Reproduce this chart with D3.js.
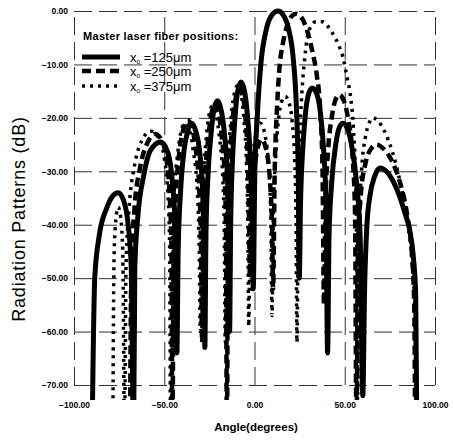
<!DOCTYPE html>
<html>
<head>
<meta charset="utf-8">
<script src="https://cdn.jsdelivr.net/npm/d3@7"></script>
<style>
  body { margin: 0; background: #fff; }
  svg { display: block; }
  .tick text { font-family: "Liberation Sans", Arial, sans-serif; font-weight: bold; font-size: 8.5px; fill: #000; }
  .grid line { stroke: #333; stroke-width: 1; stroke-dasharray: 18,7; }
</style>
</head>
<body>
<div id="chart"></div>
<script>
// tick values
const xTicks = [-100, -50, 0, 50, 100];
const yTicks = [0, -10, -20, -30, -40, -50, -60, -70];

// legend labels (fiber position x0, um)
const seriesNames = ["125", "250", "375"];

// x0 = 125 um  (angle in degrees, pattern in dB)
const solid = [
  [-90, -80], [-88.5, -50], [-86, -42], [-82, -37], [-78.5, -34.6], [-75.5, -34], [-72.5, -35.5], [-70, -40], [-68.3, -48], [-67, -80],
  [-66.3, -48], [-64.5, -38], [-61.5, -31], [-57.5, -26], [-52, -24.5], [-48, -26.5], [-45.5, -32], [-44, -40], [-43, -64],
  [-42.3, -45], [-41, -34], [-39, -26], [-37, -22.5], [-35, -21], [-32.5, -22.5], [-30.5, -26], [-28.7, -34], [-28, -45], [-27.5, -63],
  [-26.9, -42], [-25.8, -31], [-24.2, -23.5], [-22.5, -18.5], [-20.5, -16.8], [-18.5, -18.5], [-16.5, -23.5], [-15, -31], [-14.3, -42], [-13.8, -60],
  [-13.2, -40], [-12.2, -28], [-10.8, -20], [-9.3, -15], [-7.5, -13.3], [-5.5, -15], [-3.8, -20], [-2.3, -28], [-1.3, -40], [-0.7, -52],
  [0.2, -30], [1.5, -20], [3.5, -10], [6.5, -3.5], [10, -0.6], [13, 0], [16, -0.8], [19, -3.5], [21.5, -9], [23.2, -18], [24.2, -30], [24.8, -50],
  [25.5, -36], [26.7, -26], [28.3, -19], [30, -15.5], [32, -14.4], [34.5, -15.5], [36.5, -19], [38.3, -26], [39.6, -36], [40.5, -64],
  [41.3, -42], [42.8, -32], [45, -25], [47, -21.8], [49, -21], [51.5, -22], [54, -25.5], [56.5, -32], [58.5, -42], [60, -72],
  [61, -52], [62.3, -40], [64, -34.5], [66.5, -31], [69.5, -29.4], [73, -30], [77, -32], [80.5, -34.8], [83.5, -38], [86, -41], [88, -46], [89.3, -53], [90, -80]
];

// x0 = 250 um
const dashed = [
  [-69, -80], [-68.2, -48], [-66.5, -37], [-63.5, -29.5], [-59.5, -24.8], [-55, -23], [-51, -24.5], [-48.5, -28.5], [-46.8, -36], [-46, -45], [-45.5, -80],
  [-44.8, -45], [-43.5, -34], [-41.5, -26], [-39.3, -22], [-37, -20.5], [-34.5, -22], [-32.5, -26], [-30.5, -34], [-29.6, -45], [-29, -62],
  [-28.4, -42], [-27.3, -31], [-25.7, -24], [-24, -19.5], [-22, -17.5], [-20, -19], [-18, -24], [-16.5, -31], [-15.8, -42], [-15.3, -80],
  [-14.7, -42], [-13.7, -29], [-12.3, -21], [-10.5, -16.5], [-8.5, -14.5], [-6.5, -16], [-4.8, -21], [-3.6, -29], [-3, -40], [-2.5, -50],
  [-1.8, -40], [-0.6, -32], [1.2, -26.5], [4, -24], [6.8, -26.5], [8.6, -32], [9.7, -40], [10.3, -52],
  [11.2, -30], [12.5, -18], [14, -10], [15.5, -6.5], [18, -2.8], [20.5, -1], [23, -0.5], [26, -1.2], [29, -3.5], [32, -7.5], [34.5, -12], [36.5, -19], [37.7, -30], [38.5, -55],
  [39.3, -36], [40.8, -26], [43, -19.5], [45, -16.5], [47, -15.7], [49.5, -16.8], [52, -20.5], [54.3, -27], [55.7, -38], [56.5, -80],
  [57.3, -45], [59, -34], [61.5, -28.5], [64.5, -25.8], [67.5, -25], [71.5, -25.8], [76, -28], [80.5, -32], [84.5, -38], [87.3, -46], [88.5, -55], [89, -80]
];

// x0 = 375 um
const dotted = [
  [-78.5, -80], [-77.8, -46], [-76.8, -39], [-75.5, -36.7], [-74.2, -38.5], [-73, -45], [-72, -80],
  [-71.2, -48], [-69.5, -37], [-66.5, -29], [-62.5, -24.3], [-57.5, -22.5], [-53, -23.8], [-50, -27.5], [-48, -34], [-47, -44], [-46.5, -80],
  [-45.8, -45], [-44.5, -34], [-42.5, -26.5], [-40.5, -22.3], [-38.5, -21], [-36, -22.3], [-34, -26], [-31.6, -34], [-30.6, -45], [-30, -60],
  [-29.4, -42], [-28.3, -31], [-26.8, -24], [-25.2, -19.5], [-23.3, -17.8], [-21.3, -19.3], [-19.3, -24], [-17.6, -31], [-16.7, -42], [-16.2, -62],
  [-15.6, -42], [-14.6, -29], [-13.2, -21], [-11.5, -16], [-9.5, -14], [-7.5, -15.5], [-5.8, -20.5], [-4.5, -28], [-3.7, -40], [-3.2, -59],
  [-2.5, -40], [-1.4, -30], [0.3, -24], [3.2, -21], [6, -23.5], [7.8, -29], [9, -38], [9.7, -57],
  [10.4, -38], [11.6, -28], [13.4, -20], [15, -17], [17, -16], [19, -17], [20.8, -20.5], [22.3, -28], [23, -38], [23.5, -62],
  [24.3, -35], [25.3, -22], [26.5, -14], [27.5, -10], [29, -5.5], [31, -3], [34, -2], [37.5, -2], [41, -3], [44, -4.6], [46.5, -6.3], [49, -8.6], [51.2, -12.3], [53, -15.5], [54.8, -22], [56, -32], [56.6, -45], [57, -75],
  [57.8, -42], [59.3, -30], [61.5, -23.5], [63.5, -21], [65.5, -20], [68.5, -20.6], [72, -22.5], [76.5, -26.5], [81, -32.5], [85, -40], [87.5, -48], [89, -58], [89.5, -80]
];

const svg = d3.select("#chart").append("svg")
  .attr("width", 453)
  .attr("height", 440);

const x = d3.scaleLinear().domain([-100, 100]).range([74, 435]);
const y = d3.scaleLinear().domain([-70, 0]).range([385, 11]);

// grid + axes
svg.append("g")
  .attr("class", "grid")
  .attr("transform", "translate(0,385)")
  .call(d3.axisBottom(x).tickValues(xTicks).tickFormat(d3.format(".2f"))
    .tickSize(-(385 - 11)).tickPadding(17))
  .call(g => g.select(".domain").remove());

svg.append("g")
  .attr("class", "grid")
  .attr("transform", "translate(74,0)")
  .call(d3.axisLeft(y).tickValues(yTicks).tickFormat(d3.format(".2f"))
    .tickSize(-(435 - 74)).tickPadding(6))
  .call(g => g.select(".domain").remove());

// clip so the nulls run off the bottom
svg.append("clipPath").attr("id", "plotclip")
  .append("rect").attr("x", 60).attr("y", 0).attr("width", 390).attr("height", 400);

const line = d3.line()
  .x(d => x(d[0]))
  .y(d => y(d[1]))
  .curve(d3.curveMonotoneX);

const styles = [
  { data: solid, dash: null, w: 5 },
  { data: dashed, dash: "9,5", w: 4.5 },
  { data: dotted, dash: "3,5", w: 3.5 }
];

const plot = svg.append("g").attr("clip-path", "url(#plotclip)");
styles.forEach(s => {
  plot.append("path")
    .datum(s.data)
    .attr("fill", "none")
    .attr("stroke", "#000")
    .attr("stroke-width", s.w)
    .attr("stroke-dasharray", s.dash)
    .attr("d", line);
});

// legend
svg.append("text")
  .attr("x", 83).attr("y", 40)
  .style("font-family", "Liberation Sans, Arial, sans-serif")
  .style("font-weight", "bold")
  .style("font-size", "11px")
  .style("letter-spacing", "0.3px")
  .text("Master laser fiber positions:");

const legend = svg.selectAll(".legend")
  .data(styles)
  .enter().append("g")
  .attr("class", "legend")
  .attr("transform", (d, i) => "translate(0," + [57, 71, 86][i] + ")");

legend.append("line")
  .attr("x1", 82).attr("x2", 120)
  .attr("stroke", "#000")
  .attr("stroke-width", d => d.w)
  .attr("stroke-dasharray", d => d.dash);

const lt = legend.append("text")
  .attr("x", 130).attr("y", 4.5)
  .style("font-family", "Liberation Sans, Arial, sans-serif")
  .style("font-size", "13px");
lt.append("tspan").text("x");
lt.append("tspan").attr("font-size", "6.5px").attr("dy", 2).text("o");
lt.append("tspan").attr("dy", -2).text((d, i) => " =" + seriesNames[i] + "μm");

// axis titles
svg.append("text")
  .attr("x", 256).attr("y", 431)
  .attr("text-anchor", "middle")
  .style("font-family", "Liberation Sans, Arial, sans-serif")
  .style("font-weight", "bold")
  .style("font-size", "11.5px")
  .text("Angle(degrees)");

svg.append("text")
  .attr("transform", "translate(25,219) rotate(-90)")
  .attr("text-anchor", "middle")
  .style("font-family", "Liberation Sans, Arial, sans-serif")
  .style("font-size", "18px")
  .style("letter-spacing", "0.8px")
  .text("Radiation Patterns (dB)");
</script>
</body>
</html>
